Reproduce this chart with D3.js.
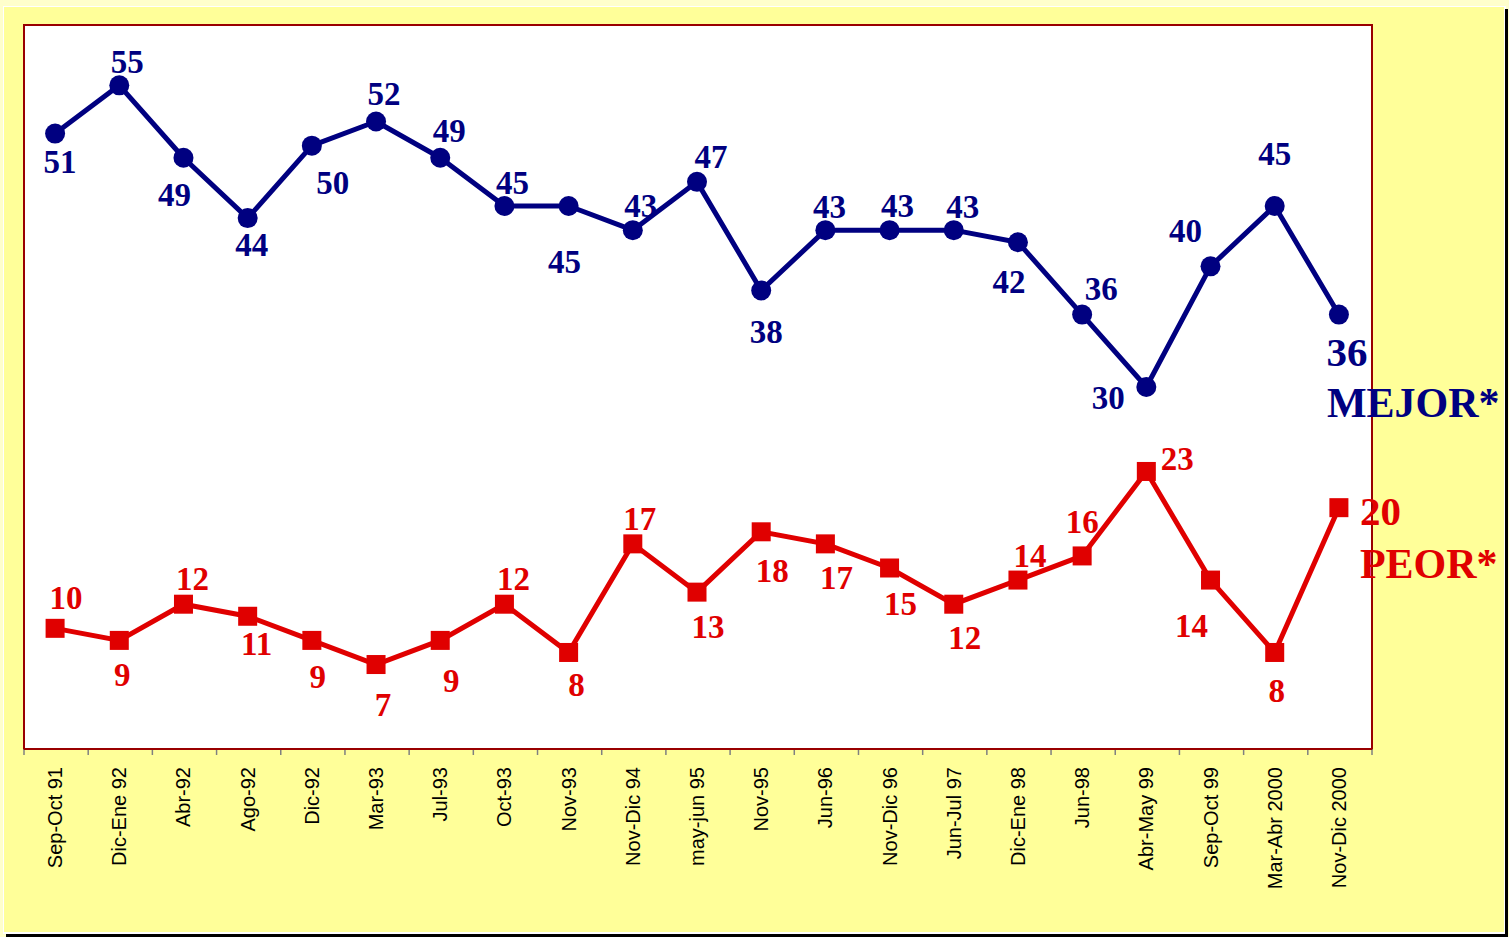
<!DOCTYPE html>
<html>
<head>
<meta charset="utf-8">
<script src="https://cdn.jsdelivr.net/npm/d3@7"></script>
<style>
  body { margin: 0; background: #FFFFCC; }
  svg { display: block; }
  .tick-label { font-family: "Liberation Sans", Arial, sans-serif; font-size: 20px; fill: #000; }
  .val { font-family: "Liberation Serif", "Times New Roman", serif; font-weight: bold; }
</style>
</head>
<body>
<script>
// categories and series values
const categories = ["Sep-Oct 91", "Dic-Ene 92", "Abr-92", "Ago-92", "Dic-92", "Mar-93", "Jul-93",
    "Oct-93", "Nov-93", "Nov-Dic 94", "may-jun 95", "Nov-95", "Jun-96", "Nov-Dic 96",
    "Jun-Jul 97", "Dic-Ene 98", "Jun-98", "Abr-May 99", "Sep-Oct 99", "Mar-Abr 2000", "Nov-Dic 2000"];

const mejor = [51, 55, 49, 44, 50, 52, 49, 45, 45, 43, 47, 38, 43, 43, 43, 42, 36, 30, 40, 45, 36];
const peor = [10, 9, 12, 11, 9, 7, 9, 12, 8, 17, 13, 18, 17, 15, 12, 14, 16, 23, 14, 8, 20];

// label placement (dx, dy from the point), layout only
const mejorLabelPos = [[5, 28], [8, -24], [-9, 37], [4, 26], [21, 37], [8, -28], [9, -27], [8, -24],
    [-4, 55], [8, -25], [14, -25], [5, 41], [4, -24], [8, -25], [9, -24], [-9, 39], [19, -26],
    [-38, 10], [-25, -36], [0, -53], [8, 37]];
const peorLabelPos = [[11, -31], [3, 34], [9, -26], [9, 27], [6, 36], [7, 40], [11, 40], [9, -26],
    [8, 32], [7, -25], [11, 34], [11, 39], [11, 34], [11, 35], [11, 33], [12, -25], [0, -34],
    [31, -13], [-19, 45], [2, 38], [21, 3]];

const W = 1509, H = 937;
const plot = { left: 24, top: 25, right: 1372, bottom: 749 };
const blue = "#000080", red = "#E00000", border = "#990000";

const svg = d3.select("body").append("svg")
    .attr("width", W)
    .attr("height", H);

// outer frame
svg.append("rect").attr("x", 3).attr("y", 6).attr("width", 1503).attr("height", 928).attr("fill", "#fff");
svg.append("rect").attr("x", 4).attr("y", 7).attr("width", 1500).attr("height", 925).attr("fill", "#FFFF99");
svg.append("rect").attr("x", 1505).attr("y", 9).attr("width", 3).attr("height", 928).attr("fill", "#000");
svg.append("rect").attr("x", 6).attr("y", 934).attr("width", 1502).attr("height", 3).attr("fill", "#000");

// plot area
svg.append("rect")
    .attr("x", plot.left).attr("y", plot.top)
    .attr("width", plot.right - plot.left).attr("height", plot.bottom - plot.top)
    .attr("fill", "#fff")
    .attr("stroke", border)
    .attr("stroke-width", 2);

const x = d3.scaleBand()
    .domain(categories)
    .range([plot.left, plot.right]);

const y = d3.scaleLinear()
    .domain([0, 60])
    .range([plot.bottom, plot.top]);

const cx = d => x(d) + x.bandwidth() / 2 - 1;

// x axis ticks at band boundaries
const bounds = categories.map(c => x(c)).concat([plot.right]);
svg.append("g").selectAll("line")
    .data(bounds)
    .enter().append("line")
    .attr("x1", d => d).attr("x2", d => d)
    .attr("y1", plot.bottom).attr("y2", plot.bottom + 6)
    .attr("stroke", "#808080")
    .attr("stroke-width", 1.5);

svg.append("line")
    .attr("x1", plot.left).attr("x2", plot.right)
    .attr("y1", plot.bottom).attr("y2", plot.bottom)
    .attr("stroke", border).attr("stroke-width", 2);

svg.append("g").selectAll("text")
    .data(categories)
    .enter().append("text")
    .attr("class", "tick-label")
    .attr("transform", d => "translate(" + (cx(d) + 7) + "," + 767 + ") rotate(-90)")
    .attr("text-anchor", "end")
    .text(d => d);

// lines
const line = d3.line()
    .x((d, i) => cx(categories[i]))
    .y(d => y(d));

svg.append("path")
    .datum(mejor)
    .attr("fill", "none")
    .attr("stroke", blue)
    .attr("stroke-width", 5)
    .attr("stroke-linejoin", "round")
    .attr("d", line);

svg.append("path")
    .datum(peor)
    .attr("fill", "none")
    .attr("stroke", red)
    .attr("stroke-width", 5)
    .attr("d", line);

// markers
svg.append("g").selectAll("circle")
    .data(mejor)
    .enter().append("circle")
    .attr("cx", (d, i) => cx(categories[i]))
    .attr("cy", d => y(d))
    .attr("r", 10)
    .attr("fill", blue);

const sq = 19;
svg.append("g").selectAll("rect")
    .data(peor)
    .enter().append("rect")
    .attr("x", (d, i) => cx(categories[i]) - sq / 2)
    .attr("y", d => y(d) - sq / 2)
    .attr("width", sq).attr("height", sq)
    .attr("fill", red);

// value labels
const last = categories.length - 1;

svg.append("g").selectAll("text")
    .data(mejor)
    .enter().append("text")
    .attr("class", "val")
    .attr("x", (d, i) => cx(categories[i]) + mejorLabelPos[i][0])
    .attr("y", (d, i) => y(d) + mejorLabelPos[i][1])
    .attr("dy", "0.35em")
    .attr("text-anchor", "middle")
    .attr("font-size", (d, i) => i === last ? 41 : 33)
    .attr("fill", blue)
    .text(d => d);

svg.append("g").selectAll("text")
    .data(peor)
    .enter().append("text")
    .attr("class", "val")
    .attr("x", (d, i) => cx(categories[i]) + peorLabelPos[i][0])
    .attr("y", (d, i) => y(d) + peorLabelPos[i][1])
    .attr("dy", "0.35em")
    .attr("text-anchor", (d, i) => i === last ? "start" : "middle")
    .attr("font-size", (d, i) => i === last ? 41 : 33)
    .attr("fill", red)
    .text(d => d);

// series names
svg.append("text")
    .attr("class", "val")
    .attr("x", cx(categories[last]) - 12)
    .attr("y", 417)
    .attr("font-size", 42)
    .attr("fill", blue)
    .text("MEJOR*");

svg.append("text")
    .attr("class", "val")
    .attr("x", cx(categories[last]) + 21)
    .attr("y", 578)
    .attr("font-size", 42)
    .attr("fill", red)
    .text("PEOR*");
</script>
</body>
</html>
